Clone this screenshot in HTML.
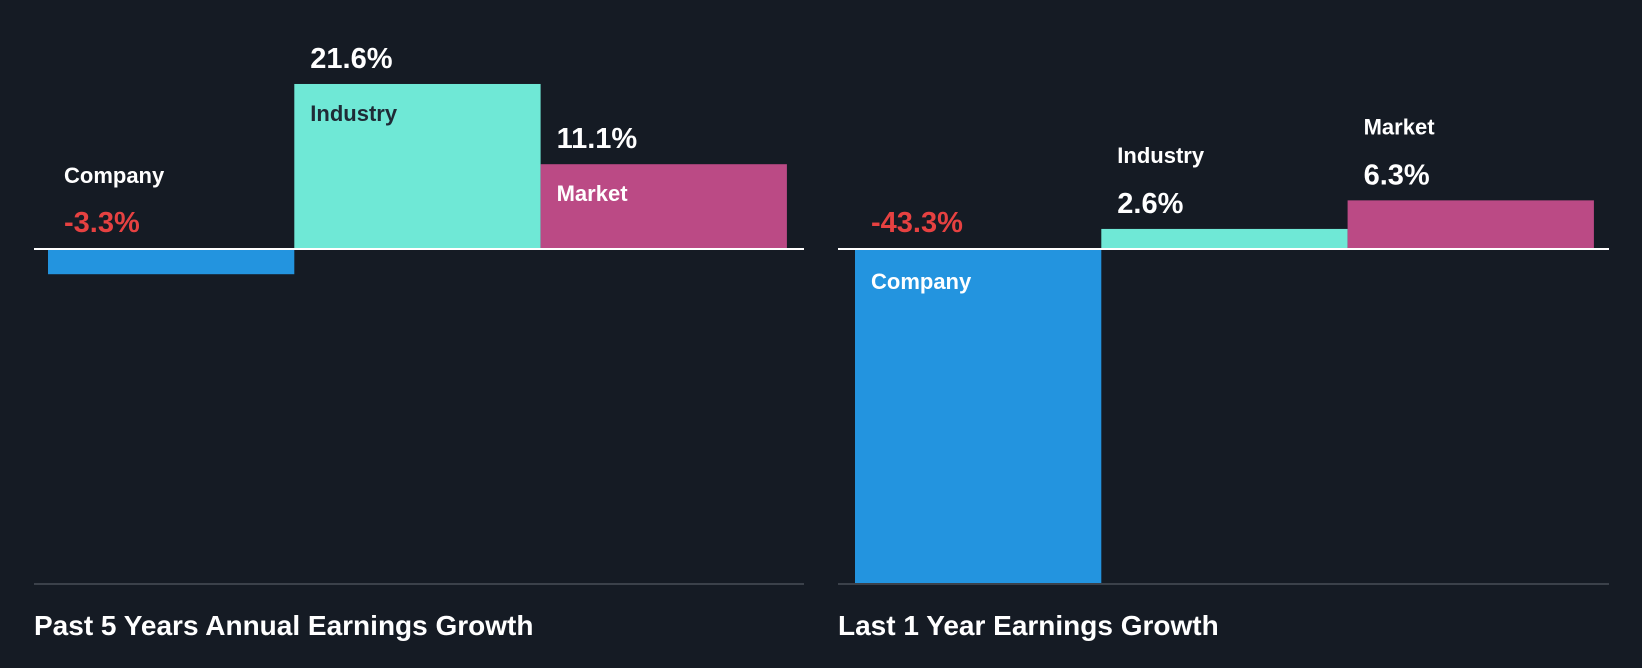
<!DOCTYPE html>
<html><head><meta charset="utf-8"><style>
html,body{margin:0;padding:0;background:#151b24;}
svg{display:block;font-family:"Liberation Sans",sans-serif;font-weight:bold;}
</style></head><body>
<svg id="c" width="1642" height="668" viewBox="0 0 1642 668">
<rect width="1642" height="668" fill="#151b24"/>
</svg>
<script>
const categories = ["Company","Industry","Market"];
const pastFiveYears = [-3.3, 21.6, 11.1];
const lastOneYear = [-43.3, 2.6, 6.3];
const panelTitles = ["Past 5 Years Annual Earnings Growth","Last 1 Year Earnings Growth"];
const colors = ["#2394df","#6fe8d6","#bb4a85"];
const NS="http://www.w3.org/2000/svg";
const svg=document.getElementById('c');
function mk(tag,attrs){const e=document.createElementNS(NS,tag);for(const k in attrs)e.setAttribute(k,attrs[k]);svg.appendChild(e);return e;}
function panel(values,title,x0,x1,barX0,scale,key){
  const base=249, bottom=584, bw=246.3;
  const y=v=>base-v*scale;
  values.forEach((v,i)=>{
    const bx=barX0+i*bw, top=Math.min(y(v),base), h=Math.abs(y(v)-base);
    const r=mk('rect',{x:bx,y:top,width:bw,height:h,fill:colors[i]});
    
    
    const tall=h>60, tx=bx+16;
    let vy,ny,nColor='#ffffff';
    if(v>=0){vy=top-16; if(tall){ny=top+37; if(i===1)nColor='#1f2a36';} else ny=vy-50;}
    else{vy=base-17; if(tall) ny=base+40; else ny=vy-49;}
    const vt=mk('text',{x:tx,y:vy,fill:v<0?'#e64141':'#ffffff','font-size':29});
    vt.textContent=v.toFixed(1)+'%';
    
    
    const nt=mk('text',{x:tx,y:ny,fill:nColor,'font-size':22});
    nt.textContent=categories[i];
    
    
  });
  const zl=mk('line',{x1:x0,x2:x1,y1:base,y2:base,stroke:'#ffffff','stroke-width':2});
  
  
  const bl=mk('line',{x1:x0,x2:x1,y1:bottom,y2:bottom,stroke:'#3b414a','stroke-width':2});
  
  
  const t=mk('text',{x:x0,y:635,fill:'#ffffff','font-size':28});
  t.textContent=title;
  
  
}
panel(pastFiveYears,panelTitles[0],34,804,48,7.64,'past-5y');
panel(lastOneYear,panelTitles[1],838,1609,855,7.72,'last-1y');
</script>
</body></html>
